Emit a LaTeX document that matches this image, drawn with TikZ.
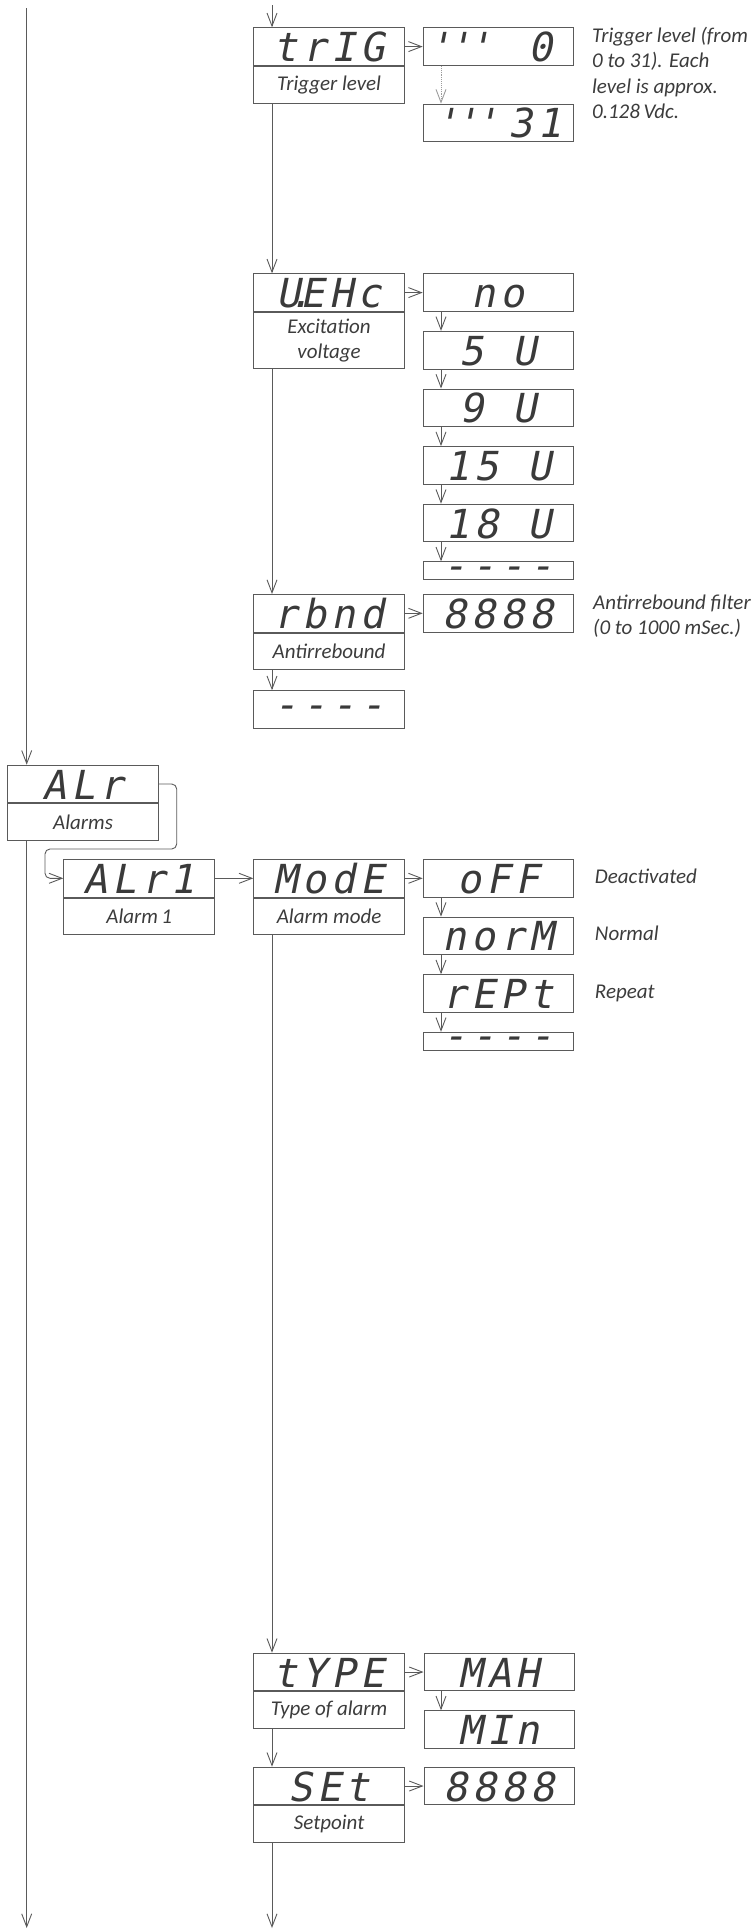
\documentclass[tikz,border=0pt]{standalone}
\usepackage{fontspec}
\setmainfont{Carlito}
\newfontfamily\segfont{DejaVu Sans Mono}[FakeSlant=0.2, LetterSpace=12, Ligatures=TeXOff]
\usetikzlibrary{
  positioning,
  arrows.meta
}
\definecolor{linec}{HTML}{5A5A5A}
\definecolor{segc}{HTML}{3A3A3A}
\definecolor{txtc}{HTML}{3C3C3C}
\newcommand{\segtxt}{\segfont\fontsize{40}{40}\selectfont}
\newcommand{\lbltxt}{\itshape\fontsize{21}{25.5}\selectfont}
\newcommand{\ticks}{'\kern-4pt'\kern-4pt'}

\begin{document}
\begin{tikzpicture}[x=1pt, y=-1pt, line width=0.9pt,
    disp/.style={draw=linec, minimum width=150.7pt, minimum height=37.7pt, inner sep=0pt,
      font=\segtxt, text=segc, text height=30pt, text depth=0pt},
    val/.style={disp, minimum width=150.3pt},
    dashbox/.style={val, minimum height=18pt, text height=17pt, text depth=-8pt},
    lbl/.style={draw=linec, minimum width=150.7pt, minimum height=36.7pt, inner sep=0pt,
      font=\lbltxt, text=txtc, align=center},
    note/.style={font=\lbltxt, text=txtc, align=left, inner sep=0pt, anchor=north west},
    tag/.style={font=\lbltxt, text=txtc, inner sep=0pt, anchor=west, text height=14pt, text depth=4pt},
    arr/.style={draw=linec, -{Straight Barb[length=13pt, width=10pt]}}
  ]

  \useasboundingbox (0,0) rectangle (755,1930);

  % trigger level
  \node[disp, anchor=north west] (trig) at (253.3,27.3) {trIG};
  \node[lbl, below=0pt of trig] (trigl) {Trigger level};
  \node[val, anchor=north west] (lev0) at (422.7,27.3) {\ticks\hspace{37pt}0\kern16pt};
  \node[val, below=37.7pt of lev0] (lev31) {\ticks\hspace{10pt}31};
  \node[note] (trignote) at (591.7,26.5) {Trigger level (from\\0 to 31). Each\\level is approx.\\0.128\,Vdc.};

  % excitation voltage
  \node[disp, anchor=north west] (vexc) at (253.3,273.3) {U\makebox[0pt]{.}EHc};
  \node[lbl, below=0pt of vexc, minimum height=56pt] (vexcl) {Excitation\\voltage};
  \node[val, anchor=north west] (vno) at (422.7,273.3) {no};
  \node[val, below=19pt of vno] (v5) {5 U};
  \node[val, below=19pt of v5] (v9) {9 U};
  \node[val, below=19pt of v9] (v15) {15 U};
  \node[val, below=19pt of v15] (v18) {18 U};
  \node[dashbox, below=19pt of v18] (vend) {----};

  % antirrebound
  \node[disp, anchor=north west] (rbnd) at (253.3,594) {rbnd};
  \node[lbl, below=0pt of rbnd] (rbndl) {Antirrebound};
  \node[dashbox, minimum width=150.7pt, minimum height=37.7pt, below=20pt of rbndl] (rbndend) {----};
  \node[val, anchor=north west] (rbndv) at (422.7,594) {8888};
  \node[note] (rbndnote) at (592.7,594) {Antirrebound filter\\(0 to 1000 mSec.)};

  % alarms
  \node[disp, minimum width=151.3pt, anchor=north west] (alr) at (7,764.7) {ALr};
  \node[lbl, minimum width=151.3pt, below=0pt of alr] (alrl) {Alarms};
  \node[disp, minimum width=151pt, anchor=north west] (alr1) at (63.3,859) {ALr1};
  \node[lbl, minimum width=151pt, below=0pt of alr1] (alr1l) {Alarm\,1};
  \node[disp, anchor=north west] (mode) at (253.3,859) {ModE};
  \node[lbl, below=0pt of mode] (model) {Alarm mode};
  \node[val, anchor=north west] (off) at (422.7,859) {oFF};
  \node[val, below=19pt of off] (norm) {norM};
  \node[val, below=19pt of norm] (rept) {rEPt};
  \node[dashbox, below=19pt of rept] (modeend) {----};
  \node[tag, right=20.6pt of off] (offtag) {Deactivated};
  \node[tag, right=20.6pt of norm] (normtag) {Normal};
  \node[tag, right=20.6pt of rept] (repttag) {Repeat};

  % type of alarm, setpoint
  \node[disp, anchor=north west] (type) at (253.3,1652.7) {tYPE};
  \node[lbl, below=0pt of type] (typel) {Type of alarm};
  \node[val, anchor=north west] (tmax) at (423.5,1652.7) {MAH};
  \node[val, below=19pt of tmax] (tmin) {MIn};
  \node[disp, anchor=north west] (set) at (253.3,1766.7) {SEt};
  \node[lbl, below=0pt of set] (setl) {Setpoint};
  \node[val, anchor=north west] (setv) at (423.5,1766.7) {8888};

  % connectors
  \coordinate (top1) at (272,5);
  \coordinate (top0) at (26.7,8);
  \coordinate (end0) at (26.7,1928);
  \coordinate (end1) at (272,1928);
  \coordinate (vcol) at (441,0);
  \coordinate (bendA) at (176.7,849);
  \coordinate (bendB) at (45,849);

  \draw[arr] (top1) -- (top1 |- trig.north);
  \draw[arr] (top1 |- trigl.south) -- (top1 |- vexc.north);
  \draw[arr] (top1 |- vexcl.south) -- (top1 |- rbnd.north);
  \draw[arr] (top1 |- rbndl.south) -- (top1 |- rbndend.north);

  \draw[arr] (top0) -- (top0 |- alr.north);
  \draw[arr] (top0 |- alrl.south) -- (end0);
  \draw[arr, rounded corners=5pt] (alr.east) -| (bendA) -- (bendB) |- (alr1.west);
  \draw[arr] (alr1.east) -- (mode.west);

  \draw[arr] (top1 |- model.south) -- (top1 |- type.north);
  \draw[arr] (top1 |- typel.south) -- (top1 |- set.north);
  \draw[arr] (top1 |- setl.south) -- (end1);

  \foreach \a/\b in {trig/lev0, vexc/vno, rbnd/rbndv, mode/off, type/tmax, set/setv}
    \draw[arr] (\a.east) -- (\a.east -| \b.west);

  \draw[arr, densely dotted, draw=linec!60] (vcol |- lev0.south) -- (vcol |- lev31.north);
  \foreach \a/\b in {vno/v5, v5/v9, v9/v15, v15/v18, v18/vend, off/norm, norm/rept, rept/modeend, tmax/tmin}
    \draw[arr] (vcol |- \a.south) -- (vcol |- \b.north);

\end{tikzpicture}
\end{document}
